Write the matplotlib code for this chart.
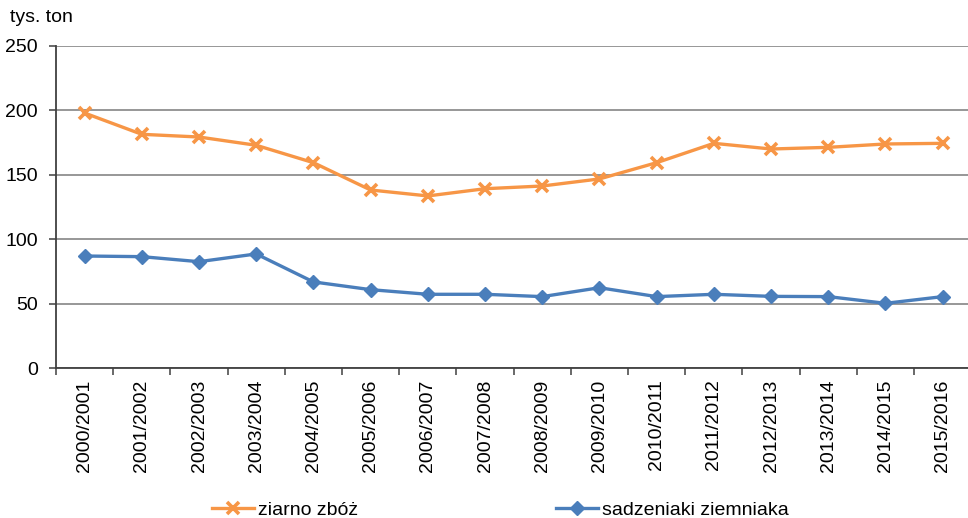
import matplotlib
matplotlib.use("Agg")
import matplotlib.pyplot as plt
from matplotlib.lines import Line2D

plt.rcParams['font.family'] = ['Liberation Sans', 'DejaVu Sans']

categories = ["2000/2001", "2001/2002", "2002/2003", "2003/2004", "2004/2005",
              "2005/2006", "2006/2007", "2007/2008", "2008/2009", "2009/2010",
              "2010/2011", "2011/2012", "2012/2013", "2013/2014", "2014/2015",
              "2015/2016"]
ziarno = [198, 181.5, 179.4, 173, 159.5, 138.3, 133.7, 139.3, 141.4, 146.9,
          159.5, 174.5, 170.1, 171.4, 174, 174.5]
sadzeniaki = [87.1, 86.6, 82.7, 88.7, 67, 61, 57.4, 57.4, 55.6, 62.5,
              55.6, 57.4, 55.8, 55.6, 50.4, 55.6]
yticks = [0, 50, 100, 150, 200, 250]

c_orange = "#F79646"
c_blue = "#4A7EBB"
FS = 14

fig = plt.figure(figsize=(9.68, 5.18), dpi=100)
ax = fig.add_axes([56/968, 1-368.3/518, 915.3/968, (368.3-46)/518])

x = list(range(len(categories)))
ax.plot(x, ziarno, color=c_orange, lw=2.4, marker='x', markersize=9,
        markeredgewidth=2.6, zorder=3)
ax.plot(x, sadzeniaki, color=c_blue, lw=2.4, marker='D', markersize=7,
        zorder=3)

ax.set_xlim(-0.5, len(categories) - 0.5)
ax.set_ylim(0, 250)
ax.set_yticks(yticks)
ax.set_yticklabels([str(v) for v in yticks], fontsize=FS)
ax.yaxis.grid(True, color="#7a7a7a", lw=1.1)
ax.set_axisbelow(True)

ax.set_xticks(x)
ax.set_xticklabels(categories, rotation=90, fontsize=FS)
ax.set_xticks([i - 0.5 for i in range(len(categories) + 1)], minor=True)
ax.tick_params(axis='x', which='major', length=0, pad=8)
ax.tick_params(axis='x', which='minor', length=5, width=1.1, color="#404040")
ax.tick_params(axis='y', length=5, width=1.1, color="#404040", pad=8)

for s in ['top', 'right']:
    ax.spines[s].set_visible(False)
for s in ['left', 'bottom']:
    ax.spines[s].set_color("#404040")
    ax.spines[s].set_linewidth(1.3)

fig.text(10/968, 1-17/518, "tys. ton", fontsize=FS, va='center', ha='left')

handles = [
    Line2D([], [], color=c_orange, lw=2.4, marker='x', markersize=9, markeredgewidth=2.6),
    Line2D([], [], color=c_blue, lw=2.4, marker='D', markersize=7),
]
fig.legend(handles, ["ziarno zbóż", "sadzeniaki ziemniaka"], loc='center left',
           bbox_to_anchor=(212/968, 1-510/518), ncol=2, frameon=False,
           fontsize=FS, handlelength=2.16, handletextpad=0.2, columnspacing=10.2,
           borderpad=0, borderaxespad=0)

fig.savefig("out.png", dpi=100)
